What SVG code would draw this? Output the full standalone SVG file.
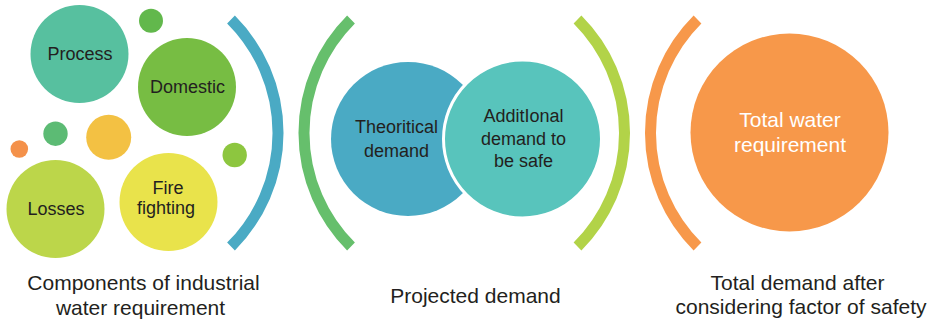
<svg xmlns="http://www.w3.org/2000/svg" width="934" height="323" viewBox="0 0 934 323">
<style>
text{font-family:"Liberation Sans",Arial,sans-serif;fill:#231f20;text-anchor:middle}
.n{font-size:18px}
.b{font-size:21px}
.w{fill:#ffffff;font-size:21px}
.arc{fill:none;stroke-width:11;stroke-linecap:butt}
</style>
<rect width="934" height="323" fill="#ffffff"/>
<g id="decor">
<circle cx="151" cy="20.7" r="12" fill="#62b84c"/>
<circle cx="55.5" cy="133.7" r="12.2" fill="#5cbb74"/>
<circle cx="19.3" cy="149" r="8.8" fill="#f4914a"/>
<circle cx="108.7" cy="137.3" r="22.5" fill="#f3c143"/>
<circle cx="234.7" cy="155" r="12.2" fill="#8dc63f"/>
</g>
<g id="connectors">
<path class="arc" stroke="#4aaac4" d="M231 19.5 A160.5 160.5 0 0 1 231 246.5"/>
<path class="arc" stroke="#66bf6c" d="M351 19.5 A160.5 160.5 0 0 0 351 246.5"/>
<path class="arc" stroke="#b2d348" d="M577.5 19.5 A160.5 160.5 0 0 1 577.5 246.5"/>
<path class="arc" stroke="#f7984a" d="M697.5 19.5 A160.5 160.5 0 0 0 697.5 246.5"/>
</g>
<g id="process"><circle cx="79.5" cy="54" r="49" fill="#57c09f"/><text class="n" x="80" y="60">Process</text></g>
<g id="domestic"><circle cx="187" cy="87" r="49" fill="#77bd43"/><text class="n" x="187.5" y="93">Domestic</text></g>
<g id="losses"><circle cx="55.5" cy="209" r="49" fill="#bcd64a"/><text class="n" x="56" y="215">Losses</text></g>
<g id="fire"><circle cx="168.5" cy="202" r="49" fill="#e9e34b"/><text class="n" x="168" y="194">Fire</text><text class="n" x="166" y="214">fighting</text></g>
<g id="theoretical"><circle cx="408" cy="139" r="77" fill="#4aaac4"/><text class="n" x="396.5" y="133">Theoritical</text><text class="n" x="396.5" y="157">demand</text></g>
<g id="additional"><circle cx="522.5" cy="139" r="79" fill="#58c4bc" stroke="#ffffff" stroke-width="3"/><text class="n" x="523.5" y="122">AdditIonal</text><text class="n" x="523.5" y="145">demand to</text><text class="n" x="523.5" y="167">be safe</text></g>
<g id="total"><circle cx="789.5" cy="132.5" r="99" fill="#f7984a"/><text class="w" x="790" y="127">Total water</text><text class="w" x="790" y="152">requirement</text></g>
<g id="labels">
<text class="b" x="143.5" y="290">Components of industrial</text>
<text class="b" x="140.5" y="314.5">water requirement</text>
<text class="b" x="475.5" y="302.5">Projected demand</text>
<text class="b" x="797.5" y="290">Total demand after</text>
<text class="b" x="801" y="314">considering factor of safety</text>
</g>
</svg>
